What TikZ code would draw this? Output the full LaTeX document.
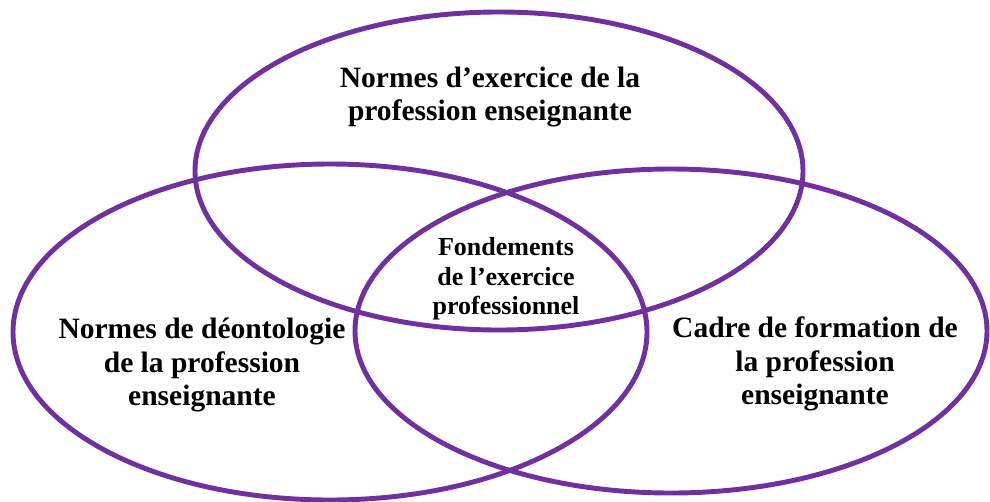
\documentclass[tikz,border=0pt]{standalone}
\usepackage{fontspec}
\setmainfont{Liberation Serif}
\usepackage{tikz}
\usetikzlibrary{positioning}
\definecolor{vennpurple}{RGB}{112,48,160}
\tikzstyle{circ}=[draw=vennpurple,line width=2.8pt]
\tikzstyle{label}=[align=center,inner sep=0pt,font=\bfseries\fontsize{16.8}{19.2}\selectfont]
\tikzstyle{smalllabel}=[align=center,inner sep=0pt,font=\bfseries\fontsize{14.8}{16.8}\selectfont]

\begin{document}
\begin{tikzpicture}[x=0.02cm,y=-0.02cm]
   \useasboundingbox (0,0) rectangle (990,501);

   % centres of the three sets
   \coordinate (top) at (499,171);
   \coordinate (left) at (330,332);
   \coordinate (right) at (671,331);

   \draw[circ] (top) ellipse (304 and 159);
   \draw[circ] (left) ellipse (317 and 168);
   \draw[circ] (right) ellipse (316 and 162);

   \node[label] (exercice) at (490,97) {Normes d’exercice de la\\profession enseignante};
   \node[label] (deonto) at (202,365) {Normes de déontologie\\de la profession\\enseignante};
   \node[label] (cadre) at (815,364) {Cadre de formation de\\la profession\\enseignante};
   \node[smalllabel] (fond) at (506,279) {Fondements\\de l’exercice\\professionnel};

\end{tikzpicture}
\end{document}
